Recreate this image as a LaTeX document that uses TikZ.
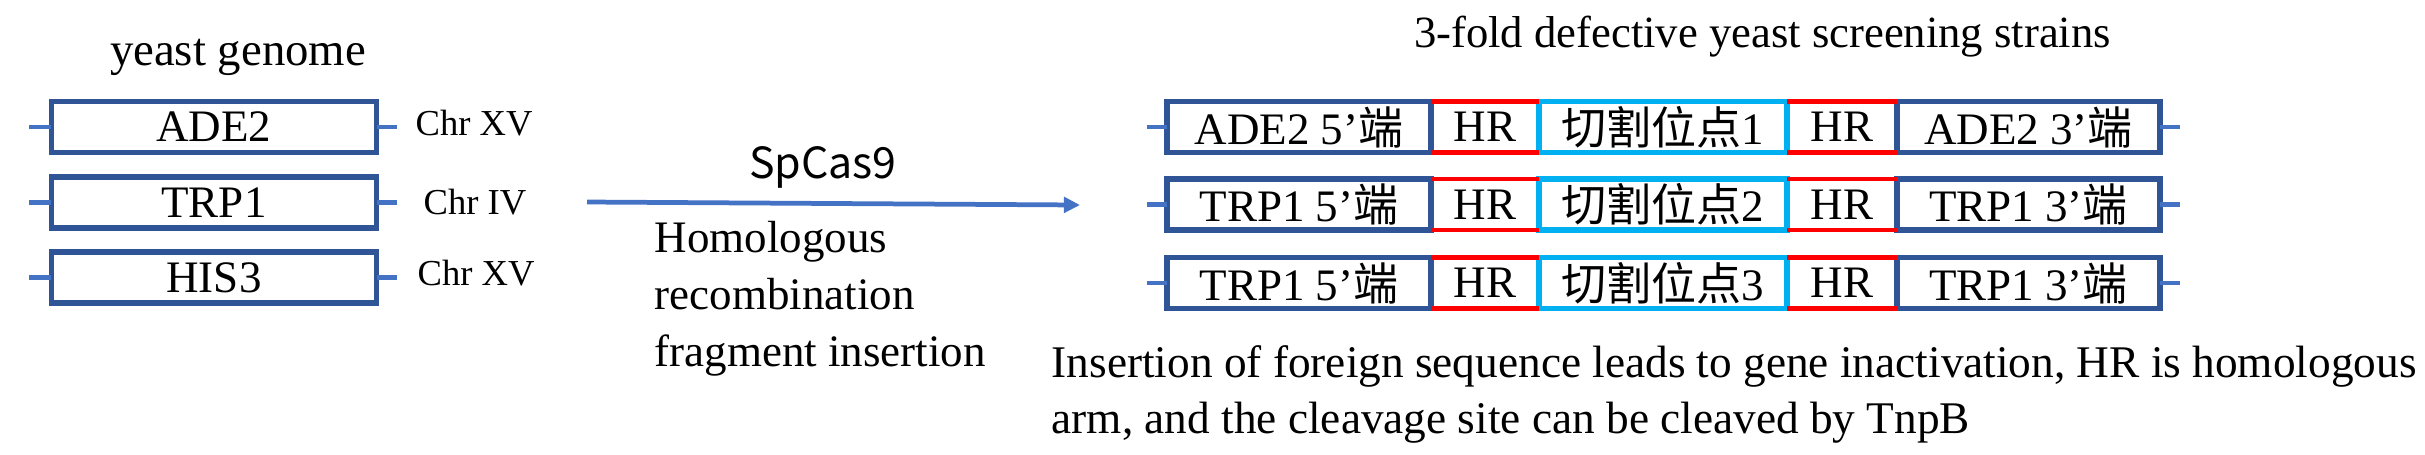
\documentclass[tikz,border=0pt]{standalone}
\usepackage{fontspec}
\setmainfont{Liberation Serif}
\newfontfamily\cjk{Noto Sans CJK SC}
\usetikzlibrary{arrows.meta}

\definecolor{boxblue}{RGB}{47,85,151}
\definecolor{stubblue}{RGB}{68,114,196}
\definecolor{siteblue}{RGB}{0,176,240}
\definecolor{hrred}{RGB}{255,0,0}

\tikzset{
  gene/.style={draw=boxblue, line width=1.5pt, outer sep=0pt, inner sep=0pt,
    minimum width=3.25cm, minimum height=0.51cm, font=\fontsize{12.8}{14}\selectfont},
  arm5/.style={gene, minimum width=2.64cm},
  arm3/.style={gene, minimum width=2.63cm},
  site/.style={gene, draw=siteblue, minimum width=2.48cm},
  hrtext/.style={inner sep=0pt, font=\fontsize{12.8}{14}\selectfont},
  hrline/.style={draw=hrred, line width=1.4pt},
  stub/.style={draw=stubblue, line width=1.3pt},
  chrtext/.style={anchor=base west, inner sep=0pt, font=\fontsize{10.4}{12}\selectfont},
}

\begin{document}
\begin{tikzpicture}[x=0.01cm, y=-0.01cm]
  \useasboundingbox (0,0) rectangle (2425,454);

  % yeast genome, three target genes
  \node[anchor=base, inner sep=0pt, font=\fontsize{13.3}{15}\selectfont] (gtitle) at (238,65) {yeast genome};
  \node[gene] (ade) at (214,127) {ADE2};
  \node[gene] (trp) at (214,202.5) {TRP1};
  \node[gene] (his) at (214,277.5) {HIS3};
  \draw[stub] (ade.west) -- ++(-22,0) (ade.east) -- ++(20,0);
  \draw[stub] (trp.west) -- ++(-22,0) (trp.east) -- ++(20,0);
  \draw[stub] (his.west) -- ++(-22,0) (his.east) -- ++(20,0);
  \node[chrtext] (chra) at (415,135) {Chr XV};
  \node[chrtext] (chrb) at (423,214) {Chr IV};
  \node[chrtext] (chrc) at (417,285) {Chr XV};

  % editing step
  \coordinate (casstart) at (587,202);
  \coordinate (casend) at (1080,205);
  \draw[stubblue, line width=1.35pt, -{Triangle[length=4.6pt,width=4.4pt]}] (casstart) -- (casend);
  \node[anchor=base, inner sep=0pt, font={\cjk\fontsize{12.2}{14}\selectfont}] (cas) at (823,178) {SpCas9};
  \node[anchor=north west, align=left, inner sep=0pt, font=\fontsize{12.8}{16.08}\selectfont] (hrnote) at (654,221)
    {Homologous\\recombination\\fragment insertion};

  % screening strains
  \node[anchor=base, inner sep=0pt, font=\fontsize{12.7}{15}\selectfont] (stitle) at (1762.5,47) {3-fold defective yeast screening strains};

  % row 1
  \node[arm5] (a1) at (1299,127) {ADE2 5’{\cjk 端}};
  \node[site] (s1) at (1663,127) {{\cjk 切割位点}1};
  \node[arm3] (b1) at (2028.5,127) {ADE2 3’{\cjk 端}};
  % row 2
  \node[arm5] (a2) at (1299,204.5) {TRP1 5’{\cjk 端}};
  \node[site] (s2) at (1663,204.5) {{\cjk 切割位点}2};
  \node[arm3] (b2) at (2028.5,204.5) {TRP1 3’{\cjk 端}};
  % row 3
  \node[arm5] (a3) at (1299,283) {TRP1 5’{\cjk 端}};
  \node[site] (s3) at (1663,283) {{\cjk 切割位点}3};
  \node[arm3] (b3) at (2028.5,283) {TRP1 3’{\cjk 端}};

  % homologous arms
  \draw[hrline] (a1.north east) -- (s1.north west) (a1.south east) -- (s1.south west);
  \draw[hrline] (s1.north east) -- (b1.north west) (s1.south east) -- (b1.south west);
  \draw[hrline] (a2.north east) -- (s2.north west) (a2.south east) -- (s2.south west);
  \draw[hrline] (s2.north east) -- (b2.north west) (s2.south east) -- (b2.south west);
  \draw[hrline] (a3.north east) -- (s3.north west) (a3.south east) -- (s3.south west);
  \draw[hrline] (s3.north east) -- (b3.north west) (s3.south east) -- (b3.south west);
  \path (a1.east) -- node[hrtext] (h1) {HR} (s1.west);
  \path (s1.east) -- node[hrtext] (k1) {HR} (b1.west);
  \path (a2.east) -- node[hrtext] (h2) {HR} (s2.west);
  \path (s2.east) -- node[hrtext] (k2) {HR} (b2.west);
  \path (a3.east) -- node[hrtext] (h3) {HR} (s3.west);
  \path (s3.east) -- node[hrtext] (k3) {HR} (b3.west);

  % chromosome ends
  \draw[stub] (a1.west) -- ++(-20,0) (b1.east) -- ++(20,0);
  \draw[stub] (a2.west) -- ++(-20,0) (b2.east) -- ++(20,0);
  \draw[stub] (a3.west) -- ++(-20,0) (b3.east) -- ++(20,0);

  % note
  \node[anchor=north west, align=left, inner sep=0pt, font=\fontsize{12.88}{15.93}\selectfont] (note) at (1051,345)
    {Insertion of foreign sequence leads to gene inactivation, HR is homologous\\arm, and the cleavage site can be cleaved by TnpB};
\end{tikzpicture}
\end{document}
